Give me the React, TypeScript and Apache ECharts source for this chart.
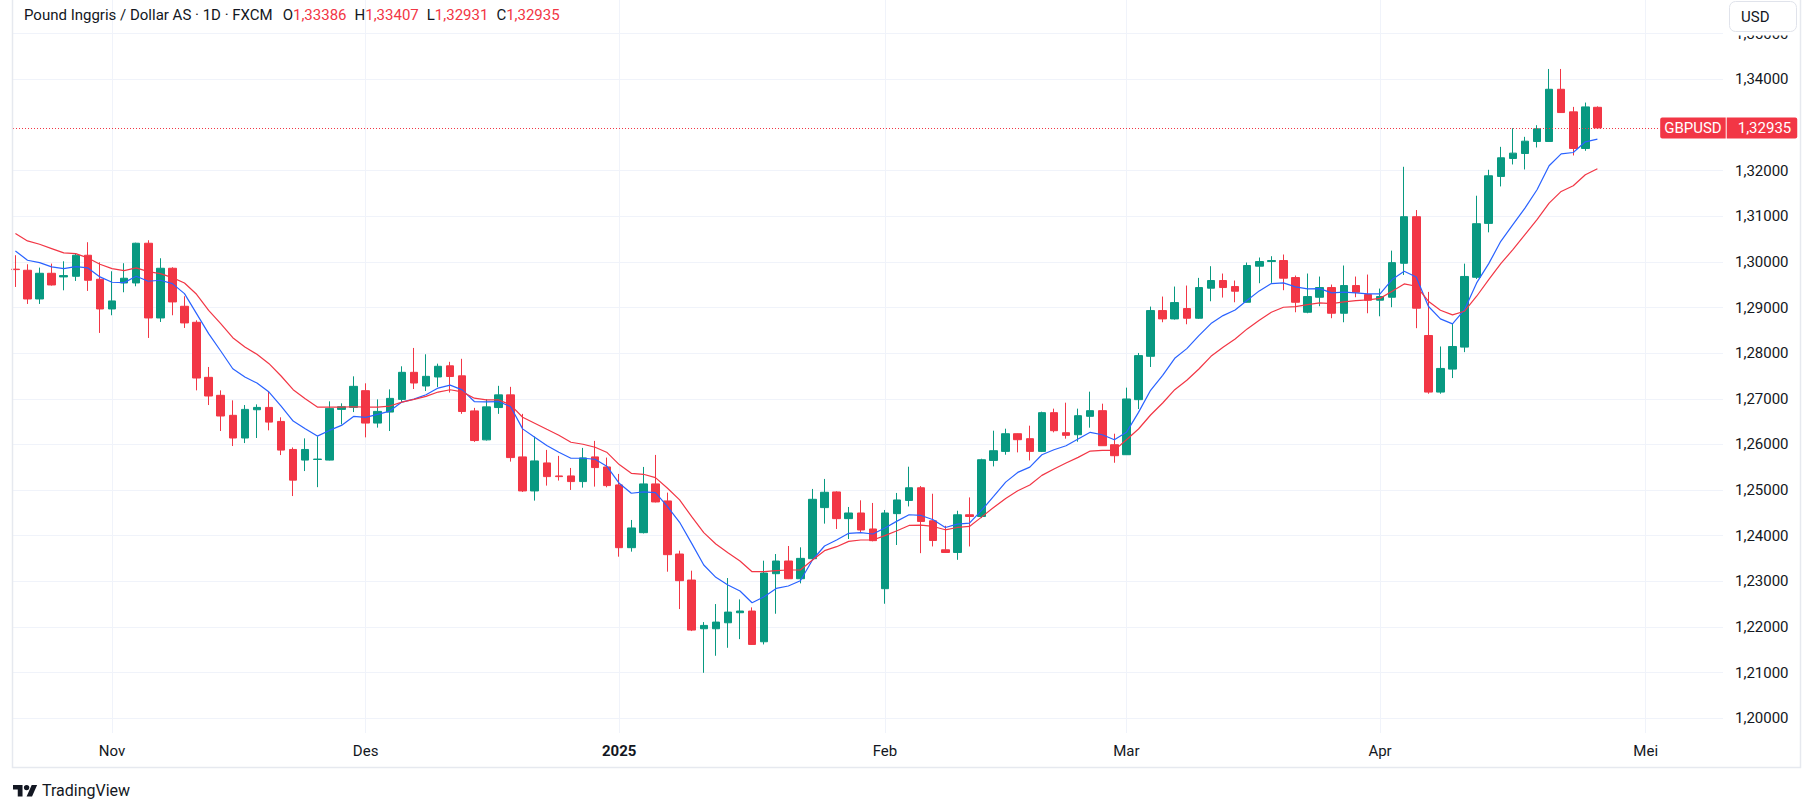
import React, { useEffect, useRef } from 'react';
import * as echarts from 'echarts';

// ---- data (index 0 = 22 Oct 2024 ... index 131 = 25 Apr 2025) ----
const opens = [
  1.29840, 1.29816, 1.29187, 1.29750, 1.29670, 1.29684, 1.30145, 1.29619, 1.28968, 1.29538,
  1.29538, 1.30408, 1.28771, 1.29860, 1.29027, 1.28676, 1.27470, 1.27076, 1.26638, 1.26141,
  1.26760, 1.26811, 1.26504, 1.25890, 1.25657, 1.25671, 1.25657, 1.26768, 1.26811, 1.27178,
  1.26468, 1.26709, 1.26987, 1.27580, 1.27280, 1.27478, 1.27722, 1.27503, 1.26735, 1.26100,
  1.26808, 1.27086, 1.25727, 1.24981, 1.25595, 1.25310, 1.25310, 1.25186, 1.25727, 1.25507,
  1.25113, 1.23738, 1.24067, 1.25135, 1.24762, 1.23599, 1.23029, 1.21962, 1.21962, 1.22093,
  1.22313, 1.22350, 1.21677, 1.23168, 1.23446, 1.23058, 1.23497, 1.24616, 1.24959, 1.24374,
  1.24498, 1.24148, 1.22840, 1.24484, 1.24773, 1.25051, 1.24327, 1.23692, 1.23633, 1.24459,
  1.24422, 1.25650, 1.25848, 1.26235, 1.26126, 1.25848, 1.26696, 1.26257, 1.26213, 1.26616,
  1.26740, 1.25994, 1.25775, 1.26981, 1.27931, 1.28933, 1.28750, 1.28977, 1.28765, 1.29423,
  1.29591, 1.29459, 1.29115, 1.29905, 1.30007, 1.30029, 1.29656, 1.28896, 1.29225, 1.29437,
  1.28874, 1.29481, 1.29284, 1.29160, 1.29225, 1.29969, 1.30989, 1.28387, 1.27147, 1.27650,
  1.28132, 1.29662, 1.30843, 1.31871, 1.32265, 1.32374, 1.32637, 1.32637, 1.33781, 1.33286,
  1.32484, 1.33386,
];
const highs = [
  1.30145, 1.29947, 1.29874, 1.29962, 1.30013, 1.30181, 1.30430, 1.29990, 1.29794, 1.29970,
  1.30420, 1.30474, 1.30079, 1.29882, 1.29246, 1.28720, 1.27697, 1.27185, 1.26966, 1.26863,
  1.26878, 1.27149, 1.26594, 1.25934, 1.26133, 1.26177, 1.26944, 1.26900, 1.27492, 1.27339,
  1.26987, 1.27206, 1.27712, 1.28114, 1.27975, 1.27770, 1.27810, 1.27876, 1.26801, 1.26991,
  1.27284, 1.27262, 1.26670, 1.26173, 1.25880, 1.25749, 1.25485, 1.25924, 1.26078, 1.25712,
  1.25354, 1.24345, 1.25507, 1.25770, 1.24944, 1.23672, 1.23234, 1.22108, 1.22503, 1.23073,
  1.22605, 1.22430, 1.23453, 1.23599, 1.23775, 1.23746, 1.25025, 1.25244, 1.24974, 1.24630,
  1.24776, 1.24718, 1.24564, 1.24937, 1.25512, 1.25088, 1.24920, 1.24218, 1.24547, 1.24839,
  1.25687, 1.26301, 1.26345, 1.26240, 1.26411, 1.26718, 1.26784, 1.26915, 1.26784, 1.27156,
  1.26893, 1.26235, 1.27244, 1.28004, 1.29020, 1.29240, 1.29459, 1.29481, 1.29649, 1.29905,
  1.29744, 1.29591, 1.29985, 1.30095, 1.30124, 1.30161, 1.29700, 1.29744, 1.29678, 1.29503,
  1.29920, 1.29678, 1.29722, 1.29415, 1.30246, 1.32083, 1.31135, 1.29342, 1.28146, 1.28642,
  1.29961, 1.31449, 1.32017, 1.32520, 1.32928, 1.32739, 1.32994, 1.34226, 1.34226, 1.33395,
  1.33490, 1.33407,
];
const lows = [
  1.29450, 1.29078, 1.29078, 1.29480, 1.29377, 1.29582, 1.29363, 1.28443, 1.28830, 1.29334,
  1.29465, 1.28333, 1.28683, 1.28830, 1.28552, 1.27185, 1.26863, 1.26294, 1.25965, 1.26030,
  1.26141, 1.26309, 1.25767, 1.24869, 1.25417, 1.25064, 1.25650, 1.26439, 1.26709, 1.26155,
  1.26368, 1.26294, 1.26929, 1.27214, 1.27170, 1.27258, 1.27137, 1.26670, 1.26056, 1.26085,
  1.26670, 1.25624, 1.24959, 1.24769, 1.25098, 1.25208, 1.25003, 1.25054, 1.25076, 1.25061,
  1.23541, 1.23651, 1.24050, 1.24730, 1.23212, 1.22393, 1.21911, 1.20997, 1.21370, 1.21545,
  1.21735, 1.21610, 1.21618, 1.22291, 1.23050, 1.22956, 1.23482, 1.24265, 1.24148, 1.23928,
  1.24082, 1.23877, 1.22510, 1.23797, 1.24642, 1.23618, 1.23765, 1.23630, 1.23472, 1.23765,
  1.24386, 1.25519, 1.25775, 1.25826, 1.25650, 1.25833, 1.26265, 1.26126, 1.26060, 1.26367,
  1.25970, 1.25599, 1.25770, 1.26776, 1.27697, 1.28677, 1.28735, 1.28633, 1.28750, 1.29137,
  1.29218, 1.29115, 1.29110, 1.29532, 1.29540, 1.29379, 1.28896, 1.28874, 1.29028, 1.28765,
  1.28677, 1.29225, 1.28874, 1.28808, 1.29006, 1.29713, 1.28547, 1.27111, 1.27111, 1.27454,
  1.28022, 1.29626, 1.30647, 1.31653, 1.32134, 1.32024, 1.32506, 1.32630, 1.33265, 1.32331,
  1.32433, 1.32931,
];
const closes = [
  1.29830, 1.29187, 1.29750, 1.29494, 1.29699, 1.30145, 1.29597, 1.28968, 1.29144, 1.29641,
  1.30408, 1.28771, 1.29860, 1.29122, 1.28662, 1.27455, 1.27061, 1.26623, 1.26141, 1.26768,
  1.26811, 1.26489, 1.25876, 1.25218, 1.25890, 1.25679, 1.26790, 1.26826, 1.27273, 1.26468,
  1.26724, 1.27009, 1.27580, 1.27346, 1.27492, 1.27712, 1.27488, 1.26721, 1.26085, 1.26823,
  1.27086, 1.25712, 1.24981, 1.25639, 1.25295, 1.25295, 1.25186, 1.25705, 1.25493, 1.25098,
  1.23738, 1.24170, 1.25135, 1.24740, 1.23585, 1.23015, 1.21933, 1.22035, 1.22108, 1.22327,
  1.22350, 1.21618, 1.23183, 1.23446, 1.23058, 1.23504, 1.24798, 1.24952, 1.24374, 1.24498,
  1.24126, 1.23892, 1.24498, 1.24784, 1.25051, 1.24313, 1.23896, 1.23633, 1.24459, 1.24422,
  1.25665, 1.25863, 1.26235, 1.26104, 1.25848, 1.26696, 1.26301, 1.26199, 1.26630, 1.26740,
  1.25972, 1.25753, 1.26996, 1.27946, 1.28933, 1.28750, 1.29108, 1.28765, 1.29437, 1.29591,
  1.29437, 1.29357, 1.29920, 1.30007, 1.30029, 1.29642, 1.29115, 1.29240, 1.29437, 1.28874,
  1.29481, 1.29335, 1.29160, 1.29240, 1.29983, 1.30989, 1.28985, 1.27147, 1.27665, 1.28146,
  1.29680, 1.30836, 1.31886, 1.32280, 1.32382, 1.32644, 1.32914, 1.33781, 1.33271, 1.32484,
  1.33395, 1.32935,
];
const maFast = [
  1.30240, 1.30035, 1.29984, 1.29889, 1.29852, 1.29896, 1.29867, 1.29670, 1.29553, 1.29545,
  1.29684, 1.29575, 1.29597, 1.29523, 1.29304, 1.28865, 1.28427, 1.28047, 1.27659, 1.27477,
  1.27345, 1.27148, 1.26841, 1.26512, 1.26344, 1.26183, 1.26307, 1.26417, 1.26614, 1.26592,
  1.26658, 1.26731, 1.26928, 1.26994, 1.27089, 1.27235, 1.27300, 1.27196, 1.26940, 1.26933,
  1.26940, 1.26830, 1.26341, 1.26158, 1.25975, 1.25829, 1.25697, 1.25697, 1.25675, 1.25515,
  1.25149, 1.24930, 1.24959, 1.24944, 1.24637, 1.24294, 1.23833, 1.23358, 1.23088, 1.22920,
  1.22788, 1.22532, 1.22664, 1.22846, 1.22898, 1.23015, 1.23468, 1.23775, 1.23906, 1.24053,
  1.24067, 1.24038, 1.24170, 1.24320, 1.24459, 1.24444, 1.24349, 1.24181, 1.24254, 1.24276,
  1.24554, 1.24861, 1.25175, 1.25387, 1.25504, 1.25775, 1.25884, 1.25972, 1.26118, 1.26265,
  1.26213, 1.26104, 1.26265, 1.26703, 1.27186, 1.27515, 1.27887, 1.28099, 1.28384, 1.28648,
  1.28823, 1.28947, 1.29159, 1.29364, 1.29525, 1.29539, 1.29452, 1.29408, 1.29415, 1.29320,
  1.29335, 1.29320, 1.29298, 1.29298, 1.29611, 1.29794, 1.29670, 1.29028, 1.28751, 1.28642,
  1.28955, 1.29539, 1.29961, 1.30450, 1.30814, 1.31179, 1.31580, 1.32105, 1.32367, 1.32396,
  1.32630, 1.32688,
];
const maSlow = [
  1.30620, 1.30459, 1.30386, 1.30291, 1.30196, 1.30181, 1.30086, 1.29947, 1.29852, 1.29808,
  1.29867, 1.29787, 1.29743, 1.29655, 1.29538, 1.29290, 1.28939, 1.28646, 1.28339, 1.28135,
  1.27974, 1.27769, 1.27499, 1.27199, 1.27001, 1.26819, 1.26819, 1.26819, 1.26826, 1.26819,
  1.26819, 1.26841, 1.26928, 1.26987, 1.27053, 1.27148, 1.27198, 1.27152, 1.27013, 1.26977,
  1.26977, 1.26867, 1.26596, 1.26465, 1.26333, 1.26202, 1.26048, 1.26004, 1.25939, 1.25822,
  1.25558, 1.25368, 1.25346, 1.25273, 1.25040, 1.24784, 1.24418, 1.24067, 1.23819, 1.23629,
  1.23446, 1.23212, 1.23212, 1.23234, 1.23249, 1.23249, 1.23468, 1.23673, 1.23760, 1.23877,
  1.23906, 1.23906, 1.24003, 1.24110, 1.24225, 1.24232, 1.24203, 1.24130, 1.24181, 1.24203,
  1.24408, 1.24620, 1.24817, 1.24985, 1.25110, 1.25322, 1.25461, 1.25592, 1.25716, 1.25855,
  1.25870, 1.25870, 1.26104, 1.26338, 1.26645, 1.26908, 1.27200, 1.27405, 1.27653, 1.27931,
  1.28129, 1.28311, 1.28531, 1.28721, 1.28896, 1.29006, 1.29020, 1.29064, 1.29101, 1.29086,
  1.29123, 1.29152, 1.29167, 1.29200, 1.29356, 1.29517, 1.29466, 1.29138, 1.28941, 1.28839,
  1.28919, 1.29247, 1.29611, 1.29961, 1.30268, 1.30596, 1.30924, 1.31288, 1.31543, 1.31667,
  1.31908, 1.32039,
];
const monthTickIndex = [8, 29, 50, 72, 92, 113, 135];
const monthTickLabels = ['Nov', 'Des', '2025', 'Feb', 'Mar', 'Apr', 'Mei'];
const priceTicks = [1.20, 1.21, 1.22, 1.23, 1.24, 1.25, 1.26, 1.27, 1.28, 1.29, 1.30, 1.31, 1.32, 1.34, 1.35];
const symbolCode = 'GBPUSD';
const titleText = 'Pound Inggris / Dollar AS · 1D · FXCM';
const currencyText = 'USD';
const brandText = 'TradingView';

const UP = '#089981';
const DOWN = '#F23645';
const TEXT = '#131722';
const GRID = '#f0f3fa';
const FONT = 'Roboto';

const fmt = (v: number) => v.toFixed(5).replace('.', ',');

const LOGO_PATH =
  'M14 22H7V11H0V4h14v18zM28 22h-8l7.5-18h8L28 22zM24 8a4 4 0 1 1-8 0a4 4 0 1 1 8 0z';
let logoRegistered = false;

export default function App() {
  const ref = useRef<HTMLDivElement>(null);

  useEffect(() => {
    if (!logoRegistered) {
      echarts.graphic.registerShape('tvlogo', echarts.graphic.extendPath(LOGO_PATH, {}) as any);
      logoRegistered = true;
    }
    const chart = echarts.init(ref.current!, null, { renderer: 'svg' });

    const n = closes.length;
    const last = n - 1;
    const candleData = opens.map((o, i) => [i, o, closes[i], lows[i], highs[i]]);
    const fastData = maFast.map((v, i) => [i, v]);
    const slowData = maSlow.map((v, i) => [i, v]);
    const lastColor = closes[last] >= opens[last] ? UP : DOWN;

    const xMin = -0.2;
    const xMax = 141.4;
    const priceLabelStart = 136.2;

    const title =
      `{t|${titleText}}` +
      `{k0|O}{r|${fmt(opens[last])}}` +
      `{k|H}{r|${fmt(highs[last])}}` +
      `{k|L}{r|${fmt(lows[last])}}` +
      `{k|C}{r|${fmt(closes[last])}}`;

    const option: any = {
      animation: false,
      backgroundColor: '#ffffff',
      textStyle: { fontFamily: FONT },
      grid: {
        left: 13,
        right: 90,
        top: 0,
        bottom: 79,
        containLabel: false,
        outerBoundsMode: 'none',
      },
      xAxis: {
        type: 'value',
        min: xMin,
        max: xMax,
        axisLine: { show: false },
        axisTick: { show: false, customValues: monthTickIndex },
        splitLine: { show: true, lineStyle: { color: GRID, width: 1 } },
        axisLabel: {
          customValues: monthTickIndex,
          margin: 10,
          color: TEXT,
          fontSize: 15,
          fontFamily: FONT,
          formatter: (v: number) => {
            const k = monthTickIndex.indexOf(Math.round(v));
            const s = k >= 0 ? monthTickLabels[k] : '';
            return /^\d{4}$/.test(s) ? `{b|${s}}` : s;
          },
          rich: {
            b: { fontWeight: 'bold', fontSize: 15, color: TEXT, fontFamily: FONT },
          },
        },
      },
      yAxis: {
        type: 'value',
        position: 'right',
        min: 1.19678,
        max: 1.35737,
        axisLine: { show: false },
        axisTick: { show: false, customValues: priceTicks },
        splitLine: { show: true, lineStyle: { color: GRID, width: 1 } },
        axisLabel: {
          customValues: priceTicks,
          margin: 12,
          color: TEXT,
          fontSize: 15,
          fontFamily: FONT,
          formatter: (v: number) => fmt(v),
        },
      },
      series: [
        {
          type: 'candlestick',
          data: candleData,
          barWidth: 8,
          clip: true,
          itemStyle: {
            color: UP,
            color0: DOWN,
            borderColor: UP,
            borderColor0: DOWN,
            borderWidth: 1,
          },
          markLine: {
            silent: true,
            symbol: ['none', 'none'],
            animation: false,
            lineStyle: { color: lastColor, type: [1, 2], width: 1 },
            label: {
              show: true,
              position: 'end',
              distance: 0,
              formatter: `{a|${symbolCode}}{s| }{b|${fmt(closes[last])}}`,
              rich: {
                a: {
                  backgroundColor: lastColor,
                  color: '#ffffff',
                  fontSize: 15,
                  fontFamily: FONT,
                  lineHeight: 15,
                  height: 15,
                  padding: [3, 4, 3, 4],
                  borderRadius: [2, 0, 0, 2],
                },
                s: { width: 1, height: 15, lineHeight: 15, fontSize: 1 },
                b: {
                  backgroundColor: lastColor,
                  color: '#ffffff',
                  fontSize: 15,
                  fontFamily: FONT,
                  lineHeight: 15,
                  height: 15,
                  padding: [3, 6, 3, 11],
                  borderRadius: [0, 2, 2, 0],
                },
              },
            },
            data: [
              [
                { coord: [xMin, closes[last]] },
                { coord: [priceLabelStart, closes[last]] },
              ],
            ],
          },
        },
        {
          type: 'line',
          data: fastData,
          symbol: 'none',
          silent: true,
          clip: true,
          lineStyle: { color: '#2962FF', width: 1.2 },
          z: 3,
        },
        {
          type: 'line',
          data: slowData,
          symbol: 'none',
          silent: true,
          clip: true,
          lineStyle: { color: '#F23645', width: 1.2 },
          z: 3,
        },
      ],
      graphic: [
        {
          type: 'rect',
          z: 90,
          silent: true,
          shape: { x: 12.5, y: -10, width: 1788, height: 777.5 },
          style: { fill: 'none', stroke: '#e6e9ef', lineWidth: 1.5 },
        },
        {
          type: 'text',
          z: 100,
          x: 24,
          y: 15,
          style: {
            text: title,
            verticalAlign: 'middle',
            fontSize: 15,
            fontFamily: FONT,
            fill: TEXT,
            rich: {
              t: { fill: TEXT, fontSize: 15, fontFamily: FONT },
              k0: { fill: TEXT, fontSize: 15, fontFamily: FONT, padding: [0, 0, 0, 10] },
              k: { fill: TEXT, fontSize: 15, fontFamily: FONT, padding: [0, 0, 0, 8] },
              r: { fill: lastColor, fontSize: 15, fontFamily: FONT },
            },
          },
        },
        {
          type: 'rect',
          z: 99,
          silent: true,
          shape: { x: 1726, y: 0, width: 73, height: 35.5 },
          style: { fill: '#ffffff', stroke: 'none' },
        },
        {
          type: 'rect',
          z: 100,
          shape: { x: 1729.5, y: 1.5, width: 67, height: 30, r: 6 },
          style: { fill: '#ffffff', stroke: '#e0e3eb', lineWidth: 1 },
        },
        {
          type: 'text',
          z: 101,
          x: 1741,
          y: 16.5,
          style: {
            text: currencyText,
            verticalAlign: 'middle',
            fontSize: 15,
            fontFamily: FONT,
            fill: TEXT,
          },
        },
        {
          type: 'tvlogo',
          z: 100,
          x: 13,
          y: 782.5,
          scaleX: 0.68,
          scaleY: 0.64,
          style: { fill: TEXT },
        },
        {
          type: 'text',
          z: 100,
          x: 42,
          y: 790,
          style: {
            text: brandText,
            verticalAlign: 'middle',
            fontSize: 16,
            fontFamily: FONT,
            fill: TEXT,
          },
        },
      ],
    };

    chart.setOption(option);
    return () => {
      chart.dispose();
    };
  }, []);

  return (
    <div
      ref={ref}
      style={{
        position: 'fixed',
        left: 0,
        top: 0,
        width: 1813,
        height: 812,
        background: '#ffffff',
      }}
    />
  );
}
